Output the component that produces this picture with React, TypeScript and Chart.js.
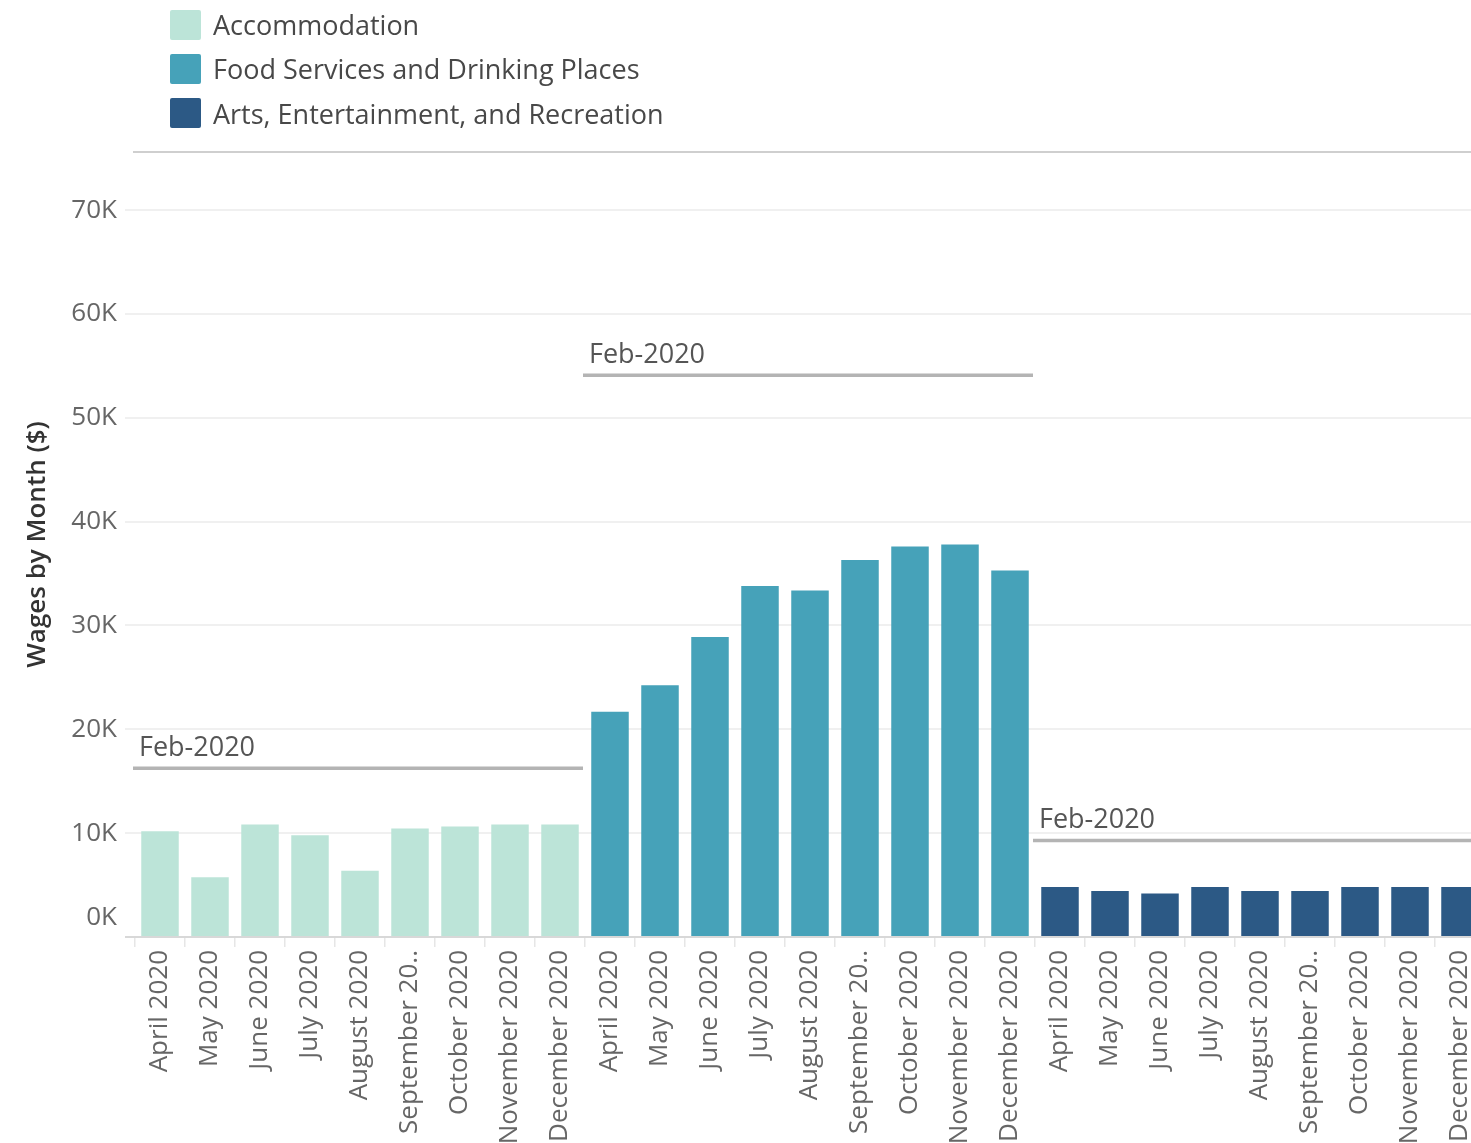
import React, { useEffect, useRef } from 'react';
import { Chart, registerables } from 'chart.js';

Chart.register(...registerables);

// ---------- data ----------
const months = [
  'April 2020', 'May 2020', 'June 2020', 'July 2020', 'August 2020',
  'September 2020', 'October 2020', 'November 2020', 'December 2020',
];
const seriesNames = [
  'Accommodation',
  'Food Services and Drinking Places',
  'Arts, Entertainment, and Recreation',
];
const accommodation = [10180, 5750, 10830, 9800, 6390, 10440, 10640, 10830, 10830];
const foodServices = [21700, 24250, 28900, 33800, 33360, 36300, 37600, 37800, 35300];
const arts = [4820, 4440, 4190, 4820, 4440, 4440, 4820, 4820, 4820];
const feb2020 = [16260, 54100, 9300];
const refLabel = 'Feb-2020';
const yTickValues = [0, 10000, 20000, 30000, 40000, 50000, 60000, 70000];
const yMax = 75600;
const yTitle = 'Wages by Month ($)';

const colors = ['#bce4d8', '#46a2b9', '#2c5985'];
const FONT = "'Open Sans', 'Noto Sans', sans-serif";

const seriesValues = [accommodation, foodServices, arts];
const categories = [...months, ...months, ...months];

const truncate = (s: string) => (s.length > 13 ? s.slice(0, 12) + '..' : s);

export default function App() {
  const ref = useRef<HTMLCanvasElement | null>(null);

  useEffect(() => {
    document.body.style.margin = '0';
    const canvas = ref.current;
    if (!canvas) return;

    const n = months.length;
    const datasets = seriesValues.map((vals, si) => ({
      label: seriesNames[si],
      data: categories.map((_, i) => (Math.floor(i / n) === si ? vals[i % n] : null)),
      backgroundColor: colors[si],
      borderWidth: 0,
      grouped: false,
      barPercentage: 0.75,
      categoryPercentage: 1,
    }));

    const overlay = {
      id: 'overlay',
      afterDatasetsDraw(chart: any) {
        const { ctx, scales } = chart;
        const x = scales.x;
        const y = scales.y;
        const half = (x.getPixelForValue(1) - x.getPixelForValue(0)) / 2;
        ctx.save();
        feb2020.forEach((v, si) => {
          const left = x.getPixelForValue(si * n) - half;
          const right = x.getPixelForValue(si * n + n - 1) + half;
          const py = y.getPixelForValue(v);
          ctx.strokeStyle = '#b4b4b4';
          ctx.lineWidth = 3.5;
          ctx.beginPath();
          ctx.moveTo(left - 2, py);
          ctx.lineTo(right - 2, py);
          ctx.stroke();
          ctx.fillStyle = '#555';
          ctx.font = `27px ${FONT}`;
          ctx.textAlign = 'left';
          ctx.textBaseline = 'middle';
          ctx.fillText(refLabel, left + 4, py - 20);
        });
        ctx.restore();
      },
      afterDraw(chart: any) {
        const { ctx, chartArea, scales } = chart;
        const y = scales.y;
        ctx.save();
        ctx.strokeStyle = '#cfcfcf';
        ctx.lineWidth = 2;
        ctx.beginPath();
        ctx.moveTo(chartArea.left - 2, chartArea.top);
        ctx.lineTo(chartArea.right, chartArea.top);
        ctx.stroke();
        ctx.fillStyle = '#666';
        ctx.font = `26px ${FONT}`;
        ctx.textAlign = 'right';
        ctx.textBaseline = 'middle';
        ctx.fillText(yTickValues[0] / 1000 + 'K', chartArea.left - 18, y.getPixelForValue(0) - 19);
        seriesNames.forEach((name, i) => {
          const cy = 25 + i * 44;
          ctx.fillStyle = colors[i];
          ctx.beginPath();
          (ctx as any).roundRect(170, cy - 15, 31, 30, 2);
          ctx.fill();
          ctx.fillStyle = '#484848';
          ctx.font = `27px ${FONT}`;
          ctx.textAlign = 'left';
          ctx.textBaseline = 'middle';
          ctx.fillText(name, 213, 27 + i * 44.5);
        });
        ctx.restore();
      },
    };

    const chart = new Chart(canvas, {
      type: 'bar',
      data: { labels: categories, datasets: datasets as any },
      options: {
        animation: false,
        responsive: false,
        maintainAspectRatio: false,
        layout: { padding: { top: 152, left: 0, right: 0, bottom: 0 } },
        font: { family: FONT },
        plugins: {
          legend: { display: false },
          tooltip: { enabled: false },
        },
        scales: {
          x: {
            offset: true,
            border: { display: false },
            grid: {
              display: true,
              drawOnChartArea: false,
              drawTicks: true,
              tickLength: 10,
              color: '#e6e6e6',
              lineWidth: 1.5,
            },
            ticks: {
              autoSkip: false,
              minRotation: 90,
              maxRotation: 90,
              padding: 3,
              color: '#666',
              font: { family: FONT, size: 26 },
              callback: (v: any) => truncate(categories[v as number]),
            },
            afterFit: (s: any) => {
              s.height = 206;
              s.paddingLeft = 0;
              s.paddingRight = 0;
            },
          },
          y: {
            min: 0,
            max: yMax,
            border: { display: false },
            afterBuildTicks: (s: any) => {
              s.ticks = yTickValues.map((v) => ({ value: v }));
            },
            grid: {
              tickLength: 10,
              lineWidth: 2,
              color: (c: any) => (c.tick && c.tick.value === 0 ? '#d8d8d8' : '#f0f0f0'),
            },
            ticks: {
              autoSkip: false,
              padding: 8,
              font: { family: FONT, size: 26 },
              color: (c: any) => (c.tick && c.tick.value === 0 ? 'rgba(0,0,0,0)' : '#666'),
              callback: (v: any) => Number(v) / 1000 + 'K',
            },
            title: {
              display: true,
              text: yTitle,
              color: '#333',
              font: { family: FONT, size: 26, weight: 600 as any },
              padding: { top: 22, bottom: 0 },
            },
            afterFit: (s: any) => {
              s.width = 135;
            },
          },
        },
      },
      plugins: [overlay],
    });

    return () => chart.destroy();
  }, []);

  return (
    <div style={{ width: 1471, height: 1143, overflow: 'hidden', position: 'relative' }}>
      <canvas ref={ref} width={1485} height={1143} style={{ display: 'block', width: 1485, height: 1143 }} />
    </div>
  );
}
